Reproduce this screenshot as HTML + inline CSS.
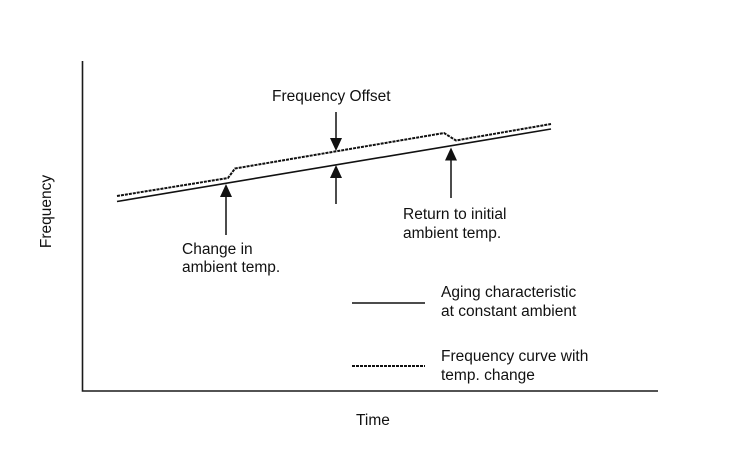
<!DOCTYPE html>
<html>
<head>
<meta charset="utf-8">
<style>
  html, body { margin: 0; padding: 0; background: #ffffff; }
  svg { display: block; }
  text { font-family: "Liberation Sans", Arial, sans-serif; font-size: 15.5px; fill: #111; }
</style>
</head>
<body>
<svg width="737" height="460" viewBox="0 0 737 460" xmlns="http://www.w3.org/2000/svg">
  <rect x="0" y="0" width="737" height="460" fill="#ffffff"/>

  <!-- Axes -->
  <polyline points="82.5,61 82.5,391 658,391" fill="none" stroke="#1a1a1a" stroke-width="1.6"/>

  <!-- Aging characteristic (solid) -->
  <line x1="117" y1="201.5" x2="551" y2="129" stroke="#111" stroke-width="1.6"/>

  <!-- Frequency curve with temp change (dashed) -->
  <polyline points="117,196 228,178 235,168.5 444,133 456,140.5 551,124" fill="none" stroke="#111" stroke-width="2" stroke-dasharray="3,1"/>

  <!-- Arrow: Change in ambient temp (up) -->
  <line x1="226" y1="235" x2="226" y2="192" stroke="#111" stroke-width="1.5"/>
  <polygon points="226,184 220,197 232,197" fill="#111"/>

  <!-- Arrow: Frequency offset (down) -->
  <line x1="336" y1="112" x2="336" y2="142" stroke="#111" stroke-width="1.5"/>
  <polygon points="336,151 330,138 342,138" fill="#111"/>

  <!-- Arrow: Frequency offset (up) -->
  <line x1="336" y1="204" x2="336" y2="174" stroke="#111" stroke-width="1.5"/>
  <polygon points="336,165 330,178 342,178" fill="#111"/>

  <!-- Arrow: Return to initial ambient temp (up) -->
  <line x1="451" y1="198" x2="451" y2="156" stroke="#111" stroke-width="1.5"/>
  <polygon points="451,147.5 445,160.5 457,160.5" fill="#111"/>

  <!-- Labels -->
  <text x="272" y="101">Frequency Offset</text>
  <text x="182" y="254">Change in</text>
  <text x="182" y="272">ambient temp.</text>
  <text x="403" y="219">Return to initial</text>
  <text x="403" y="238">ambient temp.</text>

  <!-- Legend -->
  <line x1="352" y1="303" x2="425" y2="303" stroke="#111" stroke-width="1.6"/>
  <text x="441" y="297">Aging characteristic</text>
  <text x="441" y="316">at constant ambient</text>

  <line x1="352" y1="366" x2="425" y2="366" stroke="#111" stroke-width="2" stroke-dasharray="3,1"/>
  <text x="441" y="361">Frequency curve with</text>
  <text x="441" y="380">temp. change</text>

  <!-- Axis titles -->
  <text x="356" y="425">Time</text>
  <text transform="translate(51,211.5) rotate(-90)" text-anchor="middle">Frequency</text>
</svg>
</body>
</html>
